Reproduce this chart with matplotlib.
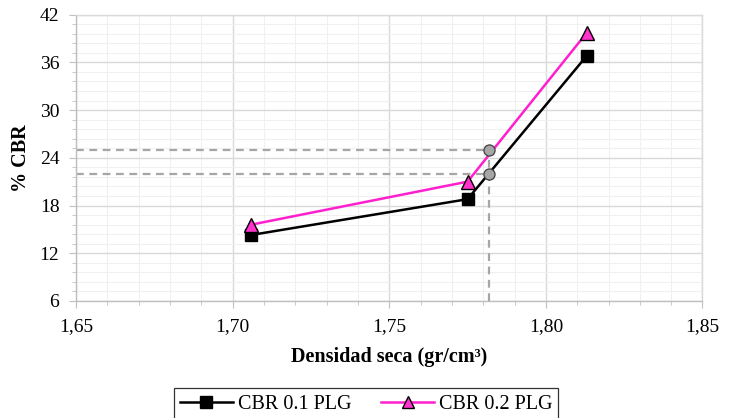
import matplotlib
matplotlib.use("Agg")
import matplotlib.pyplot as plt
from matplotlib.ticker import MultipleLocator, FuncFormatter

plt.rcParams['font.family'] = ['Liberation Serif', 'DejaVu Serif']

# Dry density (gr/cm3) and CBR values
densidad = [1.706, 1.775, 1.813]
cbr_01 = [14.3, 18.8, 36.8]
cbr_02 = [15.6, 21.0, 39.7]

# Design density and interpolated CBR readings
dens_diseno = 1.782
cbr_diseno = [25.0, 22.0]

x_min, x_max = 1.65, 1.85
y_min, y_max = 6, 42

fig = plt.figure(figsize=(7.31, 4.18), dpi=100)
ax = fig.add_axes([0.104, 0.28, 0.857, 0.685])

ax.set_xlim(x_min, x_max)
ax.set_ylim(y_min, y_max)
ax.xaxis.set_major_locator(MultipleLocator(0.05))
ax.xaxis.set_minor_locator(MultipleLocator(0.01))
ax.yaxis.set_major_locator(MultipleLocator(6))
ax.yaxis.set_minor_locator(MultipleLocator(1.2))
ax.xaxis.set_major_formatter(FuncFormatter(lambda v, p: f"{v:.2f}".replace('.', ',')))
ax.yaxis.set_major_formatter(FuncFormatter(lambda v, p: f"{v:.0f}"))

ax.grid(which='major', color='#d9d9d9', linewidth=1.0)
ax.grid(which='minor', color='#f0f0f0', linewidth=0.8)
ax.set_axisbelow(True)

for s in ax.spines.values():
    s.set_color('#d9d9d9')
    s.set_linewidth(1.0)
ax.spines['left'].set_color('#bfbfbf')
ax.spines['bottom'].set_color('#bfbfbf')

ax.tick_params(which='major', direction='out', length=5, color='#bfbfbf',
               labelsize=14)
ax.tick_params(axis='x', which='major', pad=7)
ax.tick_params(axis='y', which='major', pad=7)
ax.tick_params(which='minor', direction='out', length=3, color='#bfbfbf')

# Dashed reference lines at the design density
for v in cbr_diseno:
    ax.plot([x_min, dens_diseno], [v, v], linestyle='--', color='#a6a6a6',
            linewidth=1.6, dashes=(3.5, 2.5), zorder=2)
ax.plot([dens_diseno, dens_diseno], [y_min, max(cbr_diseno)], linestyle='--',
        color='#a6a6a6', linewidth=1.6, dashes=(3.5, 2.5), zorder=2)

l1, = ax.plot(densidad, cbr_01, color='black', linewidth=1.8, marker='s',
              markersize=9, markerfacecolor='black', markeredgecolor='black',
              label='CBR 0.1 PLG', zorder=4)
l2, = ax.plot(densidad, cbr_02, color='#ff1fcf', linewidth=1.8, marker='^',
              markersize=10, markerfacecolor='#ff33cc', markeredgecolor='black',
              markeredgewidth=1.0, label='CBR 0.2 PLG', zorder=4)

ax.plot([dens_diseno] * len(cbr_diseno), cbr_diseno, linestyle='none',
        marker='o', markersize=8, markerfacecolor='#a6a6a6',
        markeredgecolor='#404040', markeredgewidth=0.9, zorder=5)

ax.set_xlabel('Densidad seca (gr/cm³)', fontsize=14.5, fontweight='bold', labelpad=9)
ax.set_ylabel('% CBR', fontsize=14.5, fontweight='bold', labelpad=6)

leg = fig.legend(handles=[l1, l2], loc='lower center', ncol=2,
                 bbox_to_anchor=(0.501, -0.004), frameon=True, fancybox=False,
                 edgecolor='black', fontsize=14.5, handlelength=2.6,
                 handletextpad=0.25, columnspacing=1.5, borderpad=0.3,
                 borderaxespad=0.0, markerscale=0.9)
leg.get_frame().set_linewidth(0.9)

fig.savefig('out.png', dpi=100)
